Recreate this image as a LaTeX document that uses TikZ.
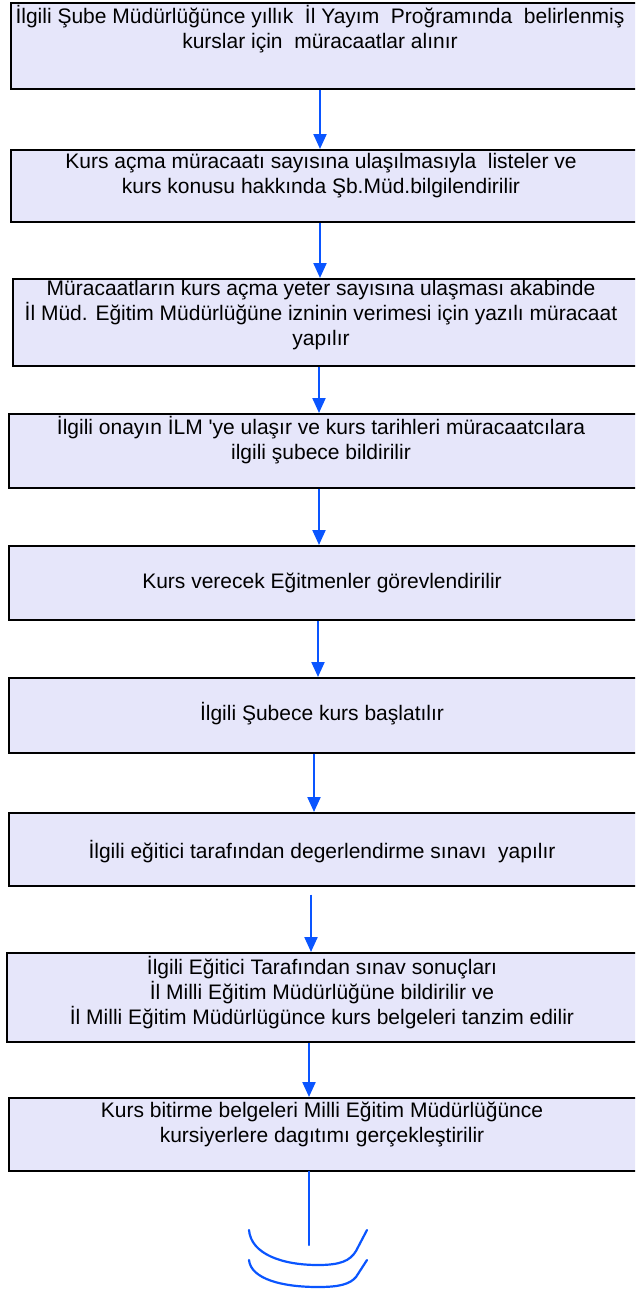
\documentclass[tikz,border=0pt]{standalone}
\usepackage{fontspec}
\setmainfont{Liberation Sans}[Ligatures=TeXOff]
\usetikzlibrary{arrows.meta}
\definecolor{boxfill}{RGB}{230,230,250}
\definecolor{flowblue}{RGB}{10,85,255}
\tikzset{
  box/.style={draw=black, line width=1.6pt, fill=boxfill, rectangle, inner sep=0pt, anchor=north west},
  txt/.style={align=center, inner sep=0pt, font=\fontsize{21}{25}\selectfont},
  arr/.style={draw=flowblue, line width=2.2pt, -{Triangle[length=15pt,width=13pt]}},
  bline/.style={draw=flowblue, line width=2.2pt, line cap=round}
}
\begin{document}
\begin{tikzpicture}[x=1pt,y=-1pt]
\useasboundingbox (0,0) rectangle (635,1290);
\clip (0,0) rectangle (635,1290);
% boxes
\node[box, minimum width=627pt, minimum height=86pt] (b1) at (10,2) {};
\node[box, minimum width=627pt, minimum height=72pt] (b2) at (10,149) {};
\node[box, minimum width=625pt, minimum height=87pt] (b3) at (12,278) {};
\node[box, minimum width=629pt, minimum height=74pt] (b4) at (8,413) {};
\node[box, minimum width=629pt, minimum height=74pt] (b5) at (8,545) {};
\node[box, minimum width=629pt, minimum height=75pt] (b6) at (8,677) {};
\node[box, minimum width=629pt, minimum height=73pt] (b7) at (8,812) {};
\node[box, minimum width=631pt, minimum height=89pt] (b8) at (6,952) {};
\node[box, minimum width=629pt, minimum height=73pt] (b9) at (8,1097) {};
% texts
\node[txt] (t1) at (320,29) {İlgili Şube Müdürlüğünce yıllık\ \ İl Yayım\ \ Proğramında\ \ belirlenmiş\\kurslar için\ \ müracaatlar alınır};
\node[txt] (t2) at (321,176) {Kurs açma müracaatı sayısına ulaşılmasıyla\ \ listeler ve\\kurs konusu hakkında Şb.Müd.bilgilendirilir};
\node[txt] (t3) at (321,315) {Müracaatların kurs açma yeter sayısına ulaşması akabinde\\İl Müd. Eğitim Müdürlüğüne izninin verimesi için yazılı müracaat\\yapılır};
\node[txt] (t4) at (321,440) {İlgili onayın İLM 'ye ulaşır ve kurs tarihleri müracaatcılara\\ilgili şubece bildirilir};
\node[txt] (t5) at (322,583) {Kurs verecek Eğitmenler görevlendirilir};
\node[txt] (t6) at (322,714) {İlgili Şubece kurs başlatılır};
\node[txt] (t7) at (322,852) {İlgili eğitici tarafından degerlendirme sınavı\ \ yapılır};
\node[txt] (t8) at (322,993) {İlgili Eğitici Tarafından sınav sonuçları\\İl Milli Eğitim Müdürlüğüne bildirilir ve\\İl Milli Eğitim Müdürlügünce kurs belgeleri tanzim edilir};
\node[txt] (t9) at (322,1124) {Kurs bitirme belgeleri Milli Eğitim Müdürlüğünce\\kursiyerlere dagıtımı gerçekleştirilir};
% arrows
\draw[arr] (320,0 |- b1.south) -- (320,0 |- b2.north);
\draw[arr] (320,0 |- b2.south) -- (320,0 |- b3.north);
\draw[arr] (319,0 |- b3.south) -- (319,0 |- b4.north);
\draw[arr] (319,0 |- b4.south) -- (319,0 |- b5.north);
\draw[arr] (318,0 |- b5.south) -- (318,0 |- b6.north);
\draw[arr] (314,0 |- b6.south) -- (314,0 |- b7.north);
\draw[arr, shorten <=8pt] (311,0 |- b7.south) -- (311,0 |- b8.north);
\draw[arr] (309,0 |- b8.south) -- (309,0 |- b9.north);
\coordinate (end) at (309,1245);
\draw[bline] (309,0 |- b9.south) -- (end);
% terminal curves
\draw[bline] (249,1230) .. controls (251,1254) and (282,1265) .. (318,1265) .. controls (340,1265) and (350,1261) .. (356,1251) -- (367,1230);
\draw[bline] (249,1260) .. controls (251,1279) and (282,1287) .. (318,1287) .. controls (340,1287) and (350,1284) .. (356,1277) -- (367,1260);
\end{tikzpicture}
\end{document}
